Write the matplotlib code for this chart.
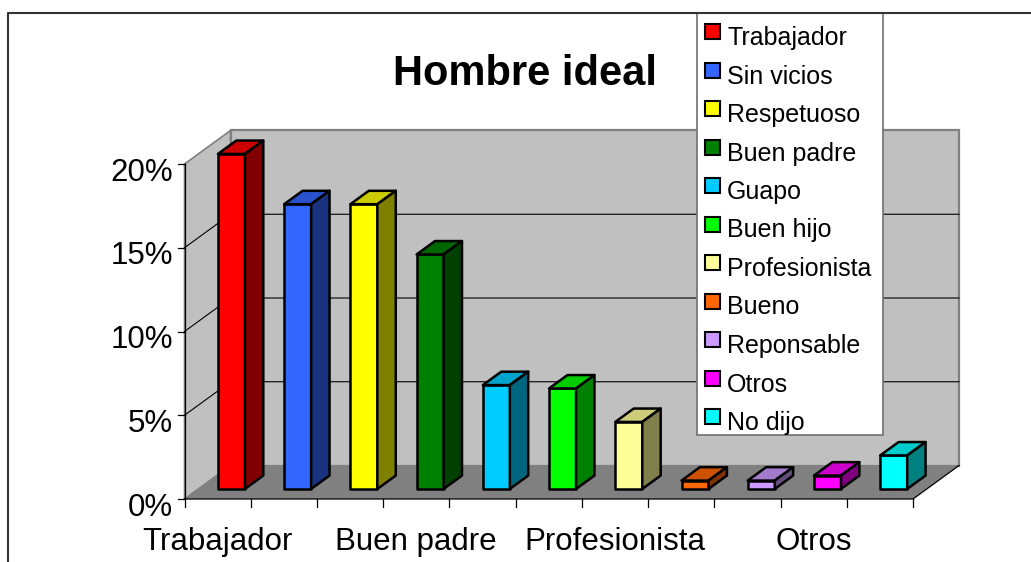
import numpy as np
import matplotlib
matplotlib.use("Agg")
import matplotlib.pyplot as plt
from matplotlib.patches import Polygon, Rectangle
from matplotlib.colors import to_rgb

plt.rcParams['font.family'] = ['Liberation Sans', 'DejaVu Sans']

# data
categories = ['Trabajador', 'Sin vicios', 'Respetuoso', 'Buen padre', 'Guapo',
              'Buen hijo', 'Profesionista', 'Bueno', 'Reponsable', 'Otros', 'No dijo']
values = [0.20, 0.17, 0.17, 0.14, 0.062, 0.06, 0.04, 0.005, 0.005, 0.008, 0.02]
colors = ['#FF0000', '#3366FF', '#FFFF00', '#008000', '#00CCFF', '#00FF00',
          '#FFFF99', '#FF6600', '#CC99FF', '#FF00FF', '#00FFFF']
yticks = [0.0, 0.05, 0.10, 0.15, 0.20]
ytick_labels = ['0%', '5%', '10%', '15%', '20%']
shown_labels = [0, 3, 6, 9]
title = 'Hombre ideal'

W, H = 1031, 562
fig = plt.figure(figsize=(W / 100, H / 100), dpi=100)

# front plane of the 3D box, in pixels
x_left, x_right = 184.5, 913.0
y_zero, y_top = 499.0, 164.0
ax = fig.add_axes([x_left / W, (H - y_zero) / H, (x_right - x_left) / W, (y_zero - y_top) / H])
n = len(categories)
ax.set_xlim(0, n)
ax.set_ylim(0, 0.20)
ax.axis('off')

# depth offset (back minus front) in data units
px_x = n / (x_right - x_left)
px_y = 0.20 / (y_zero - y_top)
DX = 46 * px_x
DY = 33.5 * px_y
ymax = 0.20

def poly(pts, **kw):
    p = Polygon(pts, closed=True, clip_on=False, **kw)
    ax.add_patch(p)
    return p

# walls and floor
poly([(0, 0), (0, ymax), (DX, ymax + DY), (DX, DY)], facecolor='#C0C0C0', edgecolor='#808080', lw=1.2, zorder=1)
poly([(DX, DY), (DX, ymax + DY), (n + DX, ymax + DY), (n + DX, DY)], facecolor='#C0C0C0', edgecolor='#808080', lw=1.6, zorder=1)
poly([(0, 0), (n, 0), (n + DX, DY), (DX, DY)], facecolor='#808080', edgecolor='none', zorder=1)

# gridlines
for v in yticks[1:-1]:
    ax.plot([0, DX, n + DX], [v, v + DY, v + DY], color='black', lw=0.8, zorder=2, clip_on=False)

# axes lines and ticks
ax.plot([0, 0], [0, ymax], color='black', lw=0.9, zorder=3, clip_on=False)
ax.plot([0, n, n + DX], [0, 0, DY], color='black', lw=0.9, zorder=3, clip_on=False)
for v, lab in zip(yticks, ytick_labels):
    ax.plot([-7 * px_x, 0], [v, v], color='black', lw=0.9, clip_on=False)
    ax.annotate(lab, xy=(0, v), xytext=(-8.5, -12), textcoords='offset points',
                ha='right', va='baseline', fontsize=22.5)
for i in range(n + 1):
    ax.plot([i, i], [0, -8 * px_y], color='black', lw=0.9, clip_on=False)
for i in shown_labels:
    ax.annotate(categories[i], xy=(i + 0.5, 0), xytext=(0, -36.5), textcoords='offset points',
                ha='center', va='baseline', fontsize=22.5)

# bars
bw = 27 * px_x
d0 = 0.3
bd = 0.4
for i, (v, c) in enumerate(zip(values, colors)):
    base = np.array(to_rgb(c))
    top_c = base * 0.8
    side_c = base * 0.5
    xl = i + 0.5 - bw / 2 + d0 * DX
    y0 = d0 * DY
    ex, ey = bd * DX, bd * DY
    kw = dict(edgecolor='black', lw=1.8, joinstyle='round', zorder=5)
    poly([(xl, y0), (xl + bw, y0), (xl + bw, y0 + v), (xl, y0 + v)], facecolor=c, **kw)
    poly([(xl, y0 + v), (xl + bw, y0 + v), (xl + bw + ex, y0 + v + ey), (xl + ex, y0 + v + ey)], facecolor=top_c, **kw)
    poly([(xl + bw, y0), (xl + bw, y0 + v), (xl + bw + ex, y0 + v + ey), (xl + bw + ex, y0 + ey)], facecolor=side_c, **kw)

# overlay in pixel coordinates for title, border and legend
ov = fig.add_axes([0, 0, 1, 1], zorder=10)
ov.set_xlim(0, W)
ov.set_ylim(H, 0)
ov.axis('off')
ov.patch.set_alpha(0)

ov.text(525, 85, title, ha='center', va='baseline', fontsize=30, fontweight='bold')
ov.plot([8, 8, W], [H, 13, 13], color='#333333', lw=1.5)

ov.add_patch(Rectangle((697, 13), 186, 422, facecolor='white', edgecolor='#707070', lw=1.2))
pitch = 38.5
for k, (lab, c) in enumerate(zip(categories, colors)):
    yb = 45 + k * pitch
    ov.add_patch(Rectangle((705, yb - 21), 15, 15, facecolor=c, edgecolor='black', lw=1.5))
    ov.text(727, yb, lab, ha='left', va='baseline', fontsize=18)

fig.savefig('out.png', dpi=100)
